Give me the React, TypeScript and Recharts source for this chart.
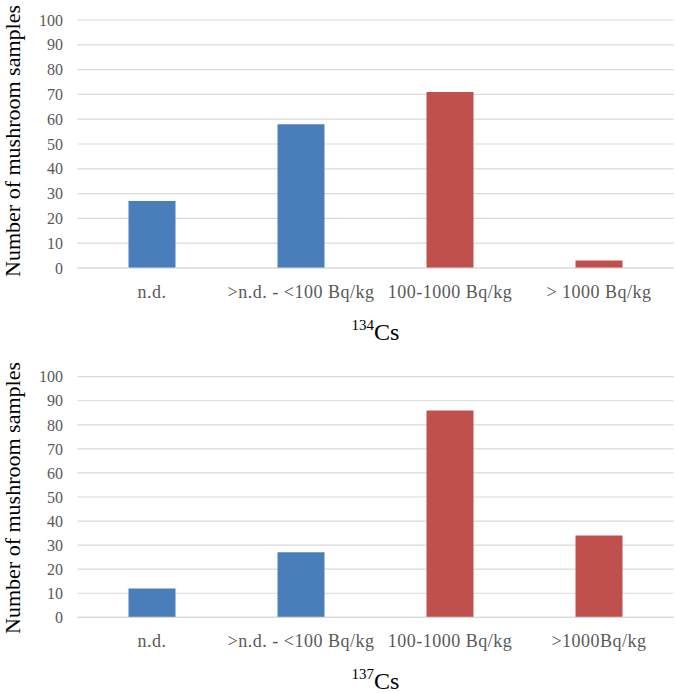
import React from "react";
import { BarChart, Bar, XAxis, YAxis, CartesianGrid, Cell, Label } from "recharts";

const categories134 = ["n.d.", ">n.d. - <100 Bq/kg", "100-1000 Bq/kg", "> 1000 Bq/kg"];
const categories137 = ["n.d.", ">n.d. - <100 Bq/kg", "100-1000 Bq/kg", ">1000Bq/kg"];
const values134 = [27, 58, 71, 3];
const values137 = [12, 27, 86, 34];
const barColors = ["#4A7EBB", "#4A7EBB", "#C0504D", "#C0504D"];
const yTicks = [0, 10, 20, 30, 40, 50, 60, 70, 80, 90, 100];
const yTitle = "Number of mushroom samples";

const FONT = "'Liberation Serif', 'Times New Roman', serif";

type PanelProps = {
  categories: string[];
  values: number[];
  iso: string;
  height: number;
  marginTop: number;
  xAxisHeight: number;
  yLabelShift: number;
};

function Panel({ categories, values, iso, height, marginTop, xAxisHeight, yLabelShift }: PanelProps) {
  const data = categories.map((c, i) => ({ name: c, value: values[i] }));
  return (
    <BarChart
      width={675}
      height={height}
      data={data}
      margin={{ top: marginTop, right: 1.5, bottom: 0, left: 0 }}
      barSize={47}
    >
      <CartesianGrid horizontal={true} vertical={false} stroke="#D9D9D9" strokeWidth={1.2} />
      <XAxis
        dataKey="name"
        height={xAxisHeight}
        axisLine={{ stroke: "#D9D9D9", strokeWidth: 1.2 }}
        tickLine={false}
        tickSize={6}
        tickMargin={11}
        interval={0}
        tick={{ fontSize: 18, fill: "#595959", fontFamily: FONT, letterSpacing: 0.5 }}
      >
        <Label
          content={(props: any) => {
            const vb = props.viewBox || {};
            const cx = vb.x + vb.width / 2;
            const by = vb.y + 72;
            return (
              <text x={cx} y={by} textAnchor="middle" fill="#000" fontFamily={FONT}>
                <tspan fontSize={15} dy={-10}>{iso}</tspan>
                <tspan fontSize={24} dy={10}>Cs</tspan>
              </text>
            );
          }}
        />
      </XAxis>
      <YAxis
        width={77.5}
        domain={[0, 100]}
        ticks={yTicks}
        interval={0}
        axisLine={false}
        tickLine={false}
        tickSize={6}
        tickMargin={8.5}
        tick={{ fontSize: 16, fill: "#595959", fontFamily: FONT }}
      >
        <Label
          content={(props: any) => {
            const vb = props.viewBox || {};
            const cy = vb.y + vb.height / 2 + yLabelShift;
            return (
              <text
                transform={`translate(20, ${cy}) rotate(-90)`}
                textAnchor="middle"
                fill="#000"
                fontSize={22}
                fontFamily={FONT}
              >
                {yTitle}
              </text>
            );
          }}
        />
      </YAxis>
      <Bar dataKey="value" isAnimationActive={false}>
        {data.map((d, i) => (
          <Cell key={d.name} fill={barColors[i]} />
        ))}
      </Bar>
    </BarChart>
  );
}

export default function App() {
  return (
    <div
      style={{
        position: "absolute",
        left: 0,
        top: 0,
        width: 675,
        height: 693,
        background: "#fff",
        fontFamily: FONT,
      }}
    >
      <Panel
        categories={categories134}
        values={values134}
        iso="134"
        height={345}
        marginTop={20}
        xAxisHeight={77}
        yLabelShift={-3}
      />
      <Panel
        categories={categories137}
        values={values137}
        iso="137"
        height={348}
        marginTop={31.7}
        xAxisHeight={75.7}
        yLabelShift={1}
      />
    </div>
  );
}
